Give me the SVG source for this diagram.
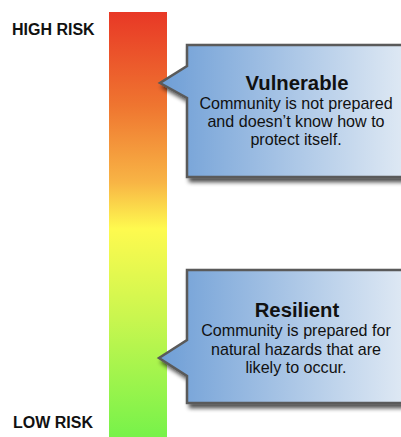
<svg xmlns="http://www.w3.org/2000/svg" width="401" height="437" viewBox="0 0 401 437">
<defs>
<linearGradient id="risk" x1="0" y1="0" x2="0" y2="1">
<stop offset="0" stop-color="#e83826"/>
<stop offset="0.22" stop-color="#ef7530"/>
<stop offset="0.4" stop-color="#f8b445"/>
<stop offset="0.51" stop-color="#fefa4f"/>
<stop offset="0.72" stop-color="#c9f64f"/>
<stop offset="1" stop-color="#77f24a"/>
</linearGradient>
<linearGradient id="box" x1="0" y1="0" x2="1" y2="0">
<stop offset="0" stop-color="#6e9ed6"/>
<stop offset="1" stop-color="#dfe9f4"/>
</linearGradient>
<filter id="shadow" x="-10%" y="-10%" width="130%" height="130%">
<feGaussianBlur in="SourceAlpha" stdDeviation="2"/>
<feOffset dx="3" dy="4" result="b"/>
<feComponentTransfer><feFuncA type="linear" slope="0.7"/></feComponentTransfer>
<feMerge><feMergeNode/><feMergeNode in="SourceGraphic"/></feMerge>
</filter>
<style>
.lbl{font-family:"Liberation Sans",Arial,sans-serif;font-weight:bold;font-size:16px;fill:#111}
.title{font-family:"Liberation Sans",Arial,sans-serif;font-weight:bold;font-size:20.3px;fill:#111;text-anchor:middle}
.body{font-family:"Liberation Sans",Arial,sans-serif;font-size:16.1px;fill:#111;text-anchor:middle}
.callout{fill:url(#box);stroke:#5a5a5a;stroke-width:2.5;filter:url(#shadow)}
</style>
</defs>
<g id="scale">
<rect x="109" y="12" width="58" height="425" fill="url(#risk)"/>
</g>
<g id="high-risk"><text class="lbl" x="12" y="35">HIGH RISK</text></g>
<g id="low-risk"><text class="lbl" x="13" y="428">LOW RISK</text></g>
<g id="vulnerable">
<path class="callout" d="M187,45 H405 V177 H187 V98 L160,83 L187,66 Z"/>
<text class="title" x="297" y="89.5">Vulnerable</text>
<text class="body" x="296" y="108.5">Community is not prepared</text>
<text class="body" x="296" y="127">and doesn’t know how to</text>
<text class="body" x="296" y="145">protect itself.</text>
</g>
<g id="resilient">
<path class="callout" d="M187,270 H405 V403 H187 V376 L159,358 L187,340 Z"/>
<text class="title" x="297" y="317">Resilient</text>
<text class="body" x="296" y="336">Community is prepared for</text>
<text class="body" x="296" y="354.5">natural hazards that are</text>
<text class="body" x="296" y="373">likely to occur.</text>
</g>
<g id="connectors"/>
</svg>
